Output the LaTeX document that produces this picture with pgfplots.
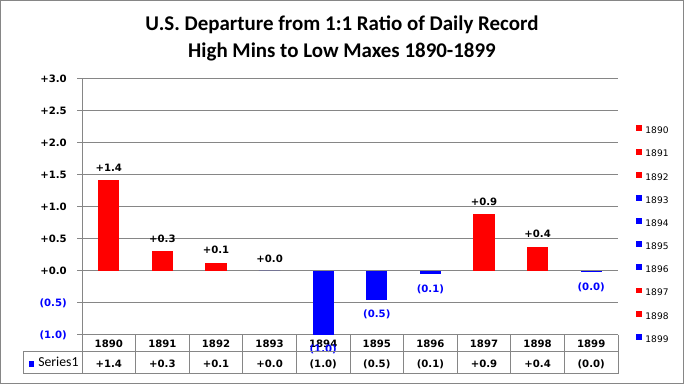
\documentclass[border=0pt]{standalone}
\usepackage{pgfplots}
\pgfplotsset{compat=1.18}
\usepackage{fontspec}
\setmainfont{DejaVu Sans}
\newfontfamily\calfont{Carlito}
\definecolor{gridgray}{RGB}{134,134,134}
\definecolor{xred}{RGB}{255,0,0}
\definecolor{xblue}{RGB}{0,0,255}
\begin{document}
\begin{tikzpicture}[x=0.75pt,y=0.75pt]
\useasboundingbox (0,0) rectangle (684,384);
\draw[gridgray, line width=1.1pt] (0.75,0.75) rectangle (683.25,383.25);
\node[font=\calfont\bfseries\fontsize{15.7}{20}\selectfont, anchor=base] at (342,353) {U.S. Departure from 1:1 Ratio of Daily Record};
\node[font=\calfont\bfseries\fontsize{15.7}{20}\selectfont, anchor=base] at (342,326) {High Mins to Low Maxes 1890-1899};
\begin{axis}[
  at={(61.5pt,36.75pt)}, anchor=south west,
  width=402pt, height=192pt, scale only axis,
  xmin=-0.5, xmax=9.5, ymin=-1, ymax=3,
  ytick={-1,-0.5,0,0.5,1,1.5,2,2.5,3},
  yticklabels={\textcolor{xblue}{(1.0)},\textcolor{xblue}{(0.5)},+0.0,+0.5,+1.0,+1.5,+2.0,+2.5,+3.0},
  ymajorgrids, grid style={gridgray, line width=0.75pt},
  axis x line*=bottom, axis y line*=left,
  axis line style={gridgray, line width=0.75pt},
  tick align=outside, major tick length=3.75pt,
  ytick style={gridgray, line width=0.75pt}, xtick style={draw=none},
  yticklabel style={font=\bfseries\fontsize{7.6}{8}\selectfont, anchor=east, inner sep=0pt, xshift=-7.5pt},
  xtick={0,...,9},
  xticklabels={{1890\\+1.4},{1891\\+0.3},{1892\\+0.1},{1893\\+0.0},{1894\\(1.0)},{1895\\(0.5)},{1896\\(0.1)},{1897\\+0.9},{1898\\+0.4},{1899\\(0.0)}},
  xticklabel style={font=\bfseries\fontsize{7.6}{14.8}\selectfont, align=center, anchor=north, inner sep=0pt, yshift=0pt},
  clip=false,
  every axis plot/.append style={ybar, bar width=16pt, bar shift=0pt, draw=none},
  nodes near coords, point meta=explicit symbolic,
  nodes near coords style={font=\bfseries\fontsize{7.6}{8}\selectfont, inner sep=0pt},
  legend style={at={(1.0336,0.8195)}, anchor=north west, draw=none, fill=none,
    font=\fontsize{6.8}{7}\selectfont, nodes={inner sep=0pt}, row sep=9.7pt, column sep=2.5pt, inner sep=0pt},
  legend cell align=left,
  legend image code/.code={\fill[#1] (0pt,0pt) rectangle (4.4pt,4.4pt);},
]
\pgfplotsset{pos/.style={fill=xred, every node near coord/.append style={anchor=south, yshift=6.4pt, text=black}},
             zer/.style={fill=xblue, every node near coord/.append style={anchor=south, yshift=6.4pt, text=black}},
             neg/.style={fill=xblue, every node near coord/.append style={anchor=north, yshift=-7.5pt, text=xblue}}}
\addplot[pos] coordinates {(0,1.42) [+1.4]}; \addlegendentry{1890}
\addplot[pos] coordinates {(1,0.31) [+0.3]}; \addlegendentry{1891}
\addplot[pos] coordinates {(2,0.13) [+0.1]}; \addlegendentry{1892}
\addplot[zer] coordinates {(3,0) [+0.0]}; \addlegendentry{1893}
\addplot[neg] coordinates {(4,-1.0) [(1.0)]}; \addlegendentry{1894}
\addplot[neg] coordinates {(5,-0.45) [(0.5)]}; \addlegendentry{1895}
\addplot[neg] coordinates {(6,-0.05) [(0.1)]}; \addlegendentry{1896}
\addplot[pos] coordinates {(7,0.89) [+0.9]}; \addlegendentry{1897}
\addplot[pos] coordinates {(8,0.38) [+0.4]}; \addlegendentry{1898}
\addplot[neg] coordinates {(9,-0.02) [(0.0)]}; \addlegendentry{1899}
\end{axis}
\draw[gridgray, line width=0.75pt] (23,32) -- (618,32);
\draw[gridgray, line width=0.75pt] (23,10) -- (618,10);
\draw[gridgray, line width=0.75pt] (23,32) -- (23,10);
\foreach \i in {0,...,10} {\draw[gridgray, line width=0.75pt] ({82+53.6*\i},49) -- ({82+53.6*\i},10);}
\node[anchor=base west, inner sep=0pt] at (28.3,17) {\textcolor{xblue}{\rule{4.3pt}{4.3pt}}\hspace{3pt}{\calfont\fontsize{10.3}{12}\selectfont Series1}};
\end{tikzpicture}
\end{document}
